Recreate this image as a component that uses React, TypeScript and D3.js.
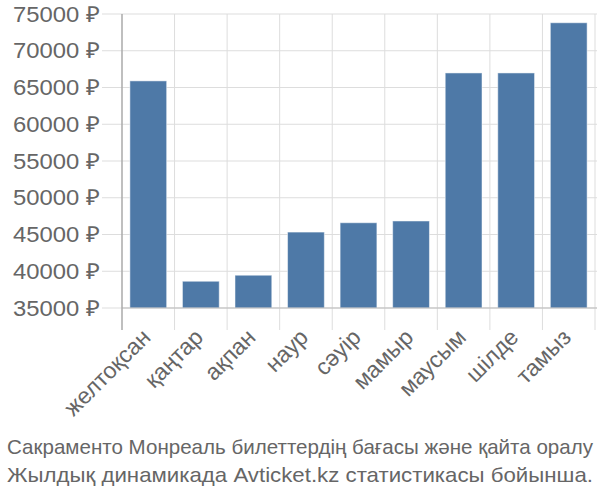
import React from "react";
import * as d3 from "d3";

const categories = ["желтоқсан", "қаңтар", "ақпан", "наур", "сәуір", "мамыр", "маусым", "шілде", "тамыз"];
const prices = [65900, 38640, 39460, 45330, 46600, 46840, 66980, 66980, 73810];
const yTicks = [35000, 40000, 45000, 50000, 55000, 60000, 65000, 70000, 75000];
const captionLines = [
  "Сакраменто Монреаль билеттердің бағасы және қайта оралу",
  "Жылдық динамикада Avticket.kz статистикасы бойынша.",
];

export default function App() {
  const W = 600, H = 500;
  const left = 122, right = 595, top = 14, bottom = 308;
  const x = d3.scaleBand<string>().domain(categories).range([left, right]).paddingInner(0.3).paddingOuter(0.15);
  const y = d3.scaleLinear().domain([35000, 75000]).range([bottom, top]);
  const step = x.step();
  const font = "'Liberation Sans', Arial, sans-serif";
  const boundaries = d3.range(categories.length + 1).map((i) => left + i * step);
  return (
    <svg width={W} height={H} style={{ position: "absolute", left: 0, top: 0 }} fontFamily={font}>
      {yTicks.map((t) => (
        <line key={"h" + t} x1={102} x2={right + 2} y1={y(t)} y2={y(t)} stroke="#dddddd" strokeWidth={1} />
      ))}
      {boundaries.slice(1).map((b, i) => (
        <line key={"v" + i} x1={b} x2={b} y1={top} y2={330} stroke="#dddddd" strokeWidth={1} />
      ))}
      {categories.map((c, i) => (
        <rect key={c} x={x(c)} y={y(prices[i])} width={x.bandwidth()} height={bottom - y(prices[i])}
          fill="#4e79a7" stroke="#ffffff" strokeOpacity={0.5} strokeWidth={1} />
      ))}
      <line x1={left} x2={right + 2} y1={bottom} y2={bottom} stroke="#bbbbbb" strokeWidth={1} />
      <line x1={left} x2={left} y1={top} y2={330} stroke="#aaaaaa" strokeWidth={1.5} />
      {yTicks.map((t) => (
        <text key={"yt" + t} x={100} y={y(t)} dy="0.35em" textAnchor="end" fontSize={22} fill="#666666"
          textLength={87} lengthAdjust="spacingAndGlyphs">
          {t} ₽
        </text>
      ))}
      {categories.map((c) => {
        const cx = (x(c) as number) + x.bandwidth() / 2;
        return (
          <text key={"xt" + c} transform={`translate(${cx - 2},${333}) rotate(-45)`} textAnchor="end"
            dy="0.35em" fontSize={23} fill="#666666">
            {c}
          </text>
        );
      })}
      {captionLines.map((l, i) => (
        <text key={"c" + i} x={300} y={454 + i * 27.5} textAnchor="middle" fontSize={21} fill="#666666"
          textLength={586} lengthAdjust="spacingAndGlyphs">
          {l}
        </text>
      ))}
    </svg>
  );
}
